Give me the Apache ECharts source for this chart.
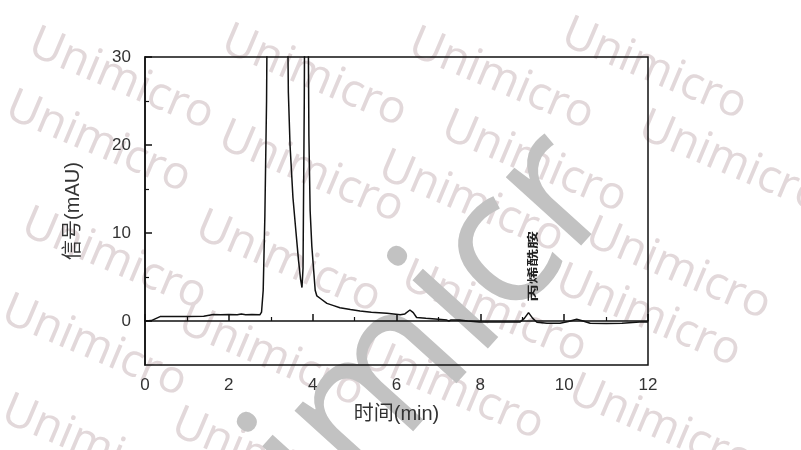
<!DOCTYPE html>
<html>
<head>
<meta charset="utf-8">
<title>丙烯酰胺色谱图</title>
<script src="https://cdn.jsdelivr.net/npm/echarts@6/dist/echarts.min.js"></script>
<style>
  html, body { margin: 0; padding: 0; background: #fff; }
  #chart { width: 801px; height: 450px; }
</style>
</head>
<body>
<div id="chart"></div>
<script>
  // 保留时间 (min)
  const timeMin = [
    0, 0.15, 0.36, 0.6, 1.0, 1.4, 1.63, 1.8, 2.0, 2.2,
    2.3, 2.4, 2.55, 2.74, 2.78, 2.82, 2.86, 2.9, 2.93, 3.1,
    3.3, 3.39, 3.42, 3.46, 3.53, 3.6, 3.66, 3.71, 3.745, 3.77,
    3.8, 3.83, 3.88, 3.91, 3.94, 3.98, 4.02, 4.06, 4.1, 4.2,
    4.34, 4.5, 4.65, 4.9, 5.13, 5.4, 5.77, 6.09, 6.2, 6.32,
    6.4, 6.48, 6.7, 7.0, 7.2, 7.25, 7.3, 7.5, 7.7, 7.98,
    8.5, 8.95, 9.05, 9.15, 9.25, 9.35, 9.59, 9.9, 10.1, 10.3,
    10.45, 10.62, 11.0, 11.38, 11.4, 11.8, 12.0
  ];
  // 信号 (mAU)，超过 30 的部分被坐标轴裁掉
  const signal = [
    0, 0.05, 0.5, 0.5, 0.52, 0.55, 0.75, 0.72, 0.75, 0.7,
    0.8, 0.7, 0.75, 0.7, 1.0, 3.5, 12, 25, 45, 90,
    85, 40, 26, 20, 14, 10.2, 7, 4.8, 3.8, 6,
    25, 60, 45, 21, 12.5, 8.5, 6, 3.5, 2.85, 2.5,
    2.0, 1.75, 1.5, 1.3, 1.13, 1.0, 0.87, 0.7, 0.8, 1.25,
    0.95, 0.4, 0.3, 0.2, 0.1, 0.0, 0.12, 0.1, 0.0, -0.1,
    -0.12, -0.1, 0.3, 0.95, 0.3, -0.15, -0.26, -0.26, -0.05, 0.2,
    0.0, -0.26, -0.28, -0.26, -0.1, -0.12, -0.12
  ];
  const yMajorTicks = [0, 10, 20, 30];
  const yMinorTicks = [5, 15, 25];
  const peakName = '丙烯酰胺';
  const peakTime = 9.15;
  const peakValue = 0.95;

  const points = timeMin.map((t, i) => [t, signal[i]]);
  const axisColor = '#111';
  const textColor = '#333';
  const latin = '"Liberation Sans", Arial, sans-serif';
  const cjk = '"Liberation Sans", "Noto Sans CJK SC", sans-serif';

  const chart = echarts.init(document.getElementById('chart'));
  chart.setOption({
    animation: false,
    grid: {
      left: 145, top: 57, right: 153, bottom: 85,
      show: true, borderColor: axisColor, borderWidth: 1.5,
      backgroundColor: 'transparent',
    },
    xAxis: {
      type: 'value', min: 0, max: 12, interval: 2,
      name: '时间(min)', nameLocation: 'middle', nameGap: 39,
      nameTextStyle: { fontSize: 20, color: textColor, fontFamily: cjk },
      axisLine: { lineStyle: { color: axisColor, width: 1.5 } },
      axisTick: { inside: true, length: 7, lineStyle: { color: axisColor, width: 1.5 } },
      minorTick: { show: true, splitNumber: 2, length: 4, lineStyle: { color: axisColor, width: 1.2 } },
      axisLabel: { color: textColor, fontSize: 17, margin: 12, fontFamily: latin },
      splitLine: { show: false },
    },
    yAxis: [
      {
        type: 'value', min: -5, max: 30, interval: 5,
        name: '信号(mAU)', nameLocation: 'middle', nameGap: 62,
        nameTextStyle: { fontSize: 20, color: textColor, fontFamily: cjk },
        axisLine: { lineStyle: { color: axisColor, width: 1.5 } },
        axisTick: { inside: true, length: 7, customValues: yMajorTicks, lineStyle: { color: axisColor, width: 1.5 } },
        axisLabel: { color: textColor, fontSize: 17, margin: 14, fontFamily: latin, customValues: yMajorTicks },
        splitLine: { show: false },
      },
      {
        type: 'value', min: -5, max: 30, interval: 5, position: 'left',
        axisLine: { show: false },
        axisTick: { inside: true, length: 4, customValues: yMinorTicks, lineStyle: { color: axisColor, width: 1.2 } },
        axisLabel: { show: false },
        splitLine: { show: false },
      },
    ],
    series: [
      {
        type: 'line',
        data: points,
        yAxisIndex: 0,
        showSymbol: false,
        clip: true,
        lineStyle: { color: axisColor, width: 1.5 },
        z: 5,
      },
    ],
  });

  // 水印 Unimicro
  const marks = [
    [40, 20], [233, 17], [420, 20], [573, 10],
    [17, 83], [230, 113], [453, 103], [650, 103],
    [390, 143], [33, 200], [207, 203], [597, 210],
    [413, 253], [567, 257], [13, 287], [190, 297],
    [580, 367], [13, 387], [183, 400], [370, 330],
  ];
  const graphics = marks.map(([x, y]) => ({
    type: 'text', x: x, y: y, rotation: -0.4, z: -10, silent: true,
    style: { text: 'Unimicro', fontSize: 46, fontFamily: '"Open Sans", sans-serif', fill: '#e2d8da', align: 'left', verticalAlign: 'top' },
  }));
  graphics.push({
    type: 'text', x: 186, y: 743, rotation: Math.PI / 4 + 0.05, z: -5, silent: true,
    style: { text: 'Unimicr', fontSize: 190, fontFamily: '"Open Sans", sans-serif', fill: '#c2c2c2', align: 'left', verticalAlign: 'bottom' },
  });

  // 峰标注，位置来自数据坐标
  const p = chart.convertToPixel({ gridIndex: 0 }, [peakTime, peakValue]);
  graphics.push({
    type: 'text', x: p[0] + 4, y: p[1] - 11, rotation: Math.PI / 2, scaleX: 1.6, z: 20,
    style: { text: peakName, fontSize: 11, fontWeight: 'bold', fontFamily: '"Noto Sans CJK SC", sans-serif', fill: '#222', align: 'left', verticalAlign: 'middle' },
  });
  chart.setOption({ graphic: graphics });
</script>
</body>
</html>
